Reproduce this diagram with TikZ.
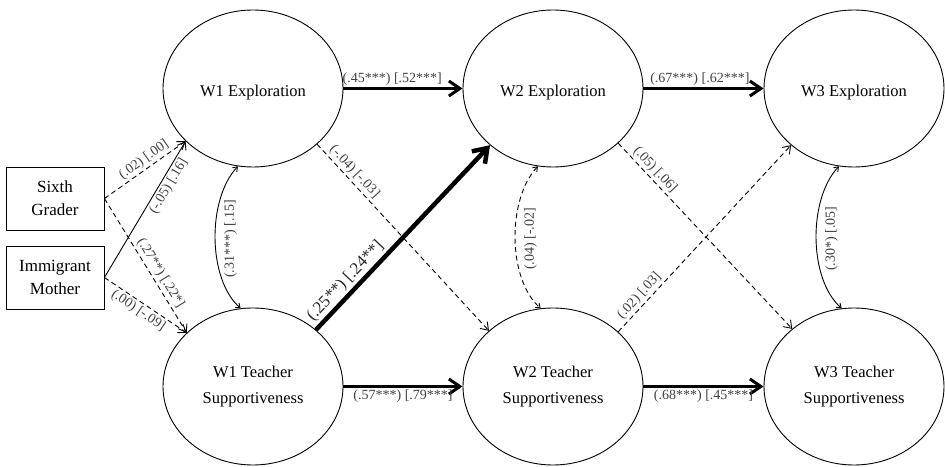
\documentclass[tikz,border=0pt]{standalone}
\usepackage{fontspec}
\setmainfont{Liberation Serif}
\usetikzlibrary{arrows.meta,shapes.geometric}
\newcommand{\lowertxt}[1]{\raisebox{-4pt}[\height][\depth]{#1}}
\begin{document}
\begin{tikzpicture}[x=1pt,y=1pt,
 latent/.style={ellipse, draw, line width=0.9pt, minimum width=180pt, minimum height=157pt, inner sep=0pt, align=center, font=\fontsize{16.5}{26}\selectfont},
 obs/.style={rectangle, draw, line width=0.9pt, minimum width=98pt, minimum height=63pt, inner sep=0pt, align=center, font=\fontsize{17}{23}\selectfont},
 lab/.style={font=\fontsize{14}{16}\selectfont, text=black!75, inner sep=2pt},
 biglab/.style={font=\fontsize{17}{19}\selectfont, text=black!85, inner sep=2pt},
 onearr/.style={line width=0.9pt, -{Straight Barb[length=7pt,width=10pt]}},
 dashedarr/.style={onearr, dash pattern=on 5pt off 3.5pt},
 patharr/.style={line width=3pt, -{Straight Barb[length=11pt,width=15pt,line width=3pt]}},
 bigarr/.style={line width=4.5pt, -{Straight Barb[length=13pt,width=18pt,line width=4.5pt]}},
 covarr/.style={line width=0.9pt, {Straight Barb[length=4pt,width=6pt]}-{Straight Barb[length=4pt,width=6pt]}},
 covdash/.style={covarr, dash pattern=on 5pt off 3.5pt},
 covlab/.style={lab, rotate=90, anchor=north, outer sep=7pt}
]
\useasboundingbox (0,0) rectangle (945,466);

\node[latent] (w1e) at (253,377.5) {\lowertxt{W1 Exploration}};
\node[latent] (w2e) at (553,377.5) {\lowertxt{W2 Exploration}};
\node[latent] (w3e) at (854,377.5) {\lowertxt{W3 Exploration}};
\node[latent] (w1t) at (253,79.5) {W1 Teacher\\Supportiveness};
\node[latent] (w2t) at (553,79.5) {W2 Teacher\\Supportiveness};
\node[latent] (w3t) at (854,79.5) {W3 Teacher\\Supportiveness};

\node[obs] (sg) at (55,267.5) {Sixth\\Grader};
\node[obs] (im) at (55,188.5) {Immigrant\\Mother};

% covariates
\draw[dashedarr] (sg.east) -- node[lab, sloped, above, pos=0.55] {(.02) [.00]} (w1e.218);
\draw[dashedarr] (sg.east) -- node[lab, sloped, above, pos=0.59] {(.27**) [.22*]} (w1t.141);
\draw[onearr] (im.east) -- node[lab, sloped, below, pos=0.7] {(-.05) [.16]} (w1e.218);
\draw[dashedarr] (im.east) -- node[lab, sloped, below, pos=0.47] {(.00) [-.09]} (w1t.141);

% stability paths
\draw[patharr] (w1e.east) -- node[lab, above, pos=0.41] {(.45***) [.52***]} (w2e.west);
\draw[patharr] (w2e.east) -- node[lab, above, pos=0.47] {(.67***) [.62***]} (w3e.west);
\draw[patharr] (w1t.east) -- node[lab, below, pos=0.5] {(.57***) [.79***]} (w2t.west);
\draw[patharr] (w2t.east) -- node[lab, below, pos=0.5] {(.68***) [.45***]} (w3t.west);

% cross-lagged paths
\draw[bigarr] (w1t.42) -- node[biglab, sloped, above, pos=0.22] {(.25**) [.24**]} (w2e.222);
\draw[dashedarr] (w1e.-41) -- node[lab, sloped, above, pos=0.18] {(-.04) [-.03]} (w2t.139);
\draw[dashedarr] (w2e.-40) -- node[lab, sloped, above, pos=0.175] {(.05) [.06]} (w3t.137);
\draw[dashedarr] (w2t.40) -- node[lab, sloped, above, pos=0.16] {(.02) [.03]} (w3e.222);

% within-wave covariances
\draw[covarr] (w1e.259) .. controls +(-31,-33) and +(-33,29) .. node[covlab, pos=0.5] {(.31***) [.15]} (w1t.99.5);
\draw[covdash] (w2e.259) .. controls +(-31,-33) and +(-33,29) .. node[covlab, pos=0.5] {(.04) [-.02]} (w2t.99.5);
\draw[covarr] (w3e.259) .. controls +(-31,-33) and +(-33,29) .. node[covlab, pos=0.5] {(.30*) [.05]} (w3t.99.5);
\end{tikzpicture}
\end{document}
